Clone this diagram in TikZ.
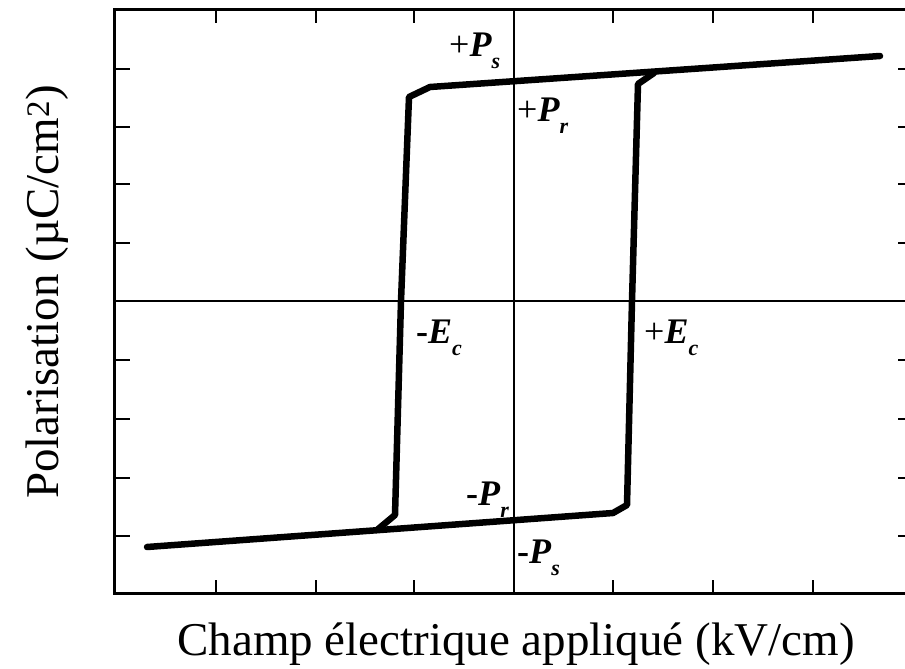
\documentclass[tikz,border=0pt]{standalone}
\usepackage{fontspec}
\setmainfont{Liberation Serif}
\newcommand\lblsub[1]{\raisebox{-12bp}{\fontsize{22bp}{24bp}\selectfont\textbf{\textit{#1}}}}
\newcommand\lblP[1]{\textbf{\textit{#1}}}
\begin{document}
\begin{tikzpicture}[x=1bp,y=-1bp,
  frame/.style={line width=3bp},
  axisline/.style={line width=2bp},
  tickline/.style={line width=2.5bp},
  loopline/.style={line width=6.5bp, line join=round, line cap=round},
  lbl/.style={anchor=base west, inner sep=0pt, font=\fontsize{36bp}{40bp}\selectfont},
  axlabel/.style={inner sep=0pt, font=\fontsize{47bp}{52bp}\selectfont}]
\useasboundingbox (0,0) rectangle (905,669);
% frame
\draw[frame] (114,10) rectangle (914,593);
% axes
\draw[axisline] (514,10) -- (514,593);
\draw[axisline] (114,301) -- (914,301);
% ticks
\foreach \x in {216,316,414,613,713,813}{
  \draw[tickline] (\x,10) -- (\x,23);
  \draw[tickline] (\x,593) -- (\x,580);
}
\foreach \y in {69,127,184,243,360,419,478,536}{
  \draw[tickline] (114,\y) -- (130,\y);
  \draw[tickline] (914,\y) -- (898,\y);
}
% hysteresis loop
\coordinate (ur) at (880,56);
\coordinate (ul) at (430,87);
\coordinate (uc) at (409,97);
\coordinate (ml) at (401,301);
\coordinate (lc) at (395,515);
\coordinate (lj) at (377,530);
\coordinate (ll) at (147,547);
\coordinate (lr) at (613,513);
\coordinate (rc) at (627,505);
\coordinate (mr) at (632,301);
\coordinate (rt) at (638,84);
\coordinate (uj) at (654,73);
\draw[loopline] (ur) -- (ul) -- (uc) -- (ml) -- (lc) -- (lj);
\draw[loopline] (ll) -- (lr) -- (rc) -- (mr) -- (rt) -- (uj);
% labels
\node[lbl] (ps) at (449,57) {+\lblP{P}\lblsub{s}};
\node[lbl] (pr) at (517,122) {+\lblP{P}\lblsub{r}};
\node[lbl] (mec) at (416,343) {\textbf{-}\lblP{E}\lblsub{c}};
\node[lbl] (pec) at (644,343) {+\lblP{E}\lblsub{c}};
\node[lbl] (mpr) at (466,505) {\textbf{-}\lblP{P}\lblsub{r}};
\node[lbl] (mps) at (517,563) {\textbf{-}\lblP{P}\lblsub{s}};
% axis titles
\node[axlabel, anchor=base] (xl) at (516,655) {Champ électrique appliqué (kV/cm)};
\node[axlabel, anchor=base, rotate=90] (yl) at (58,292) {Polarisation (µC/cm\textsuperscript{2})};
\end{tikzpicture}
\end{document}
